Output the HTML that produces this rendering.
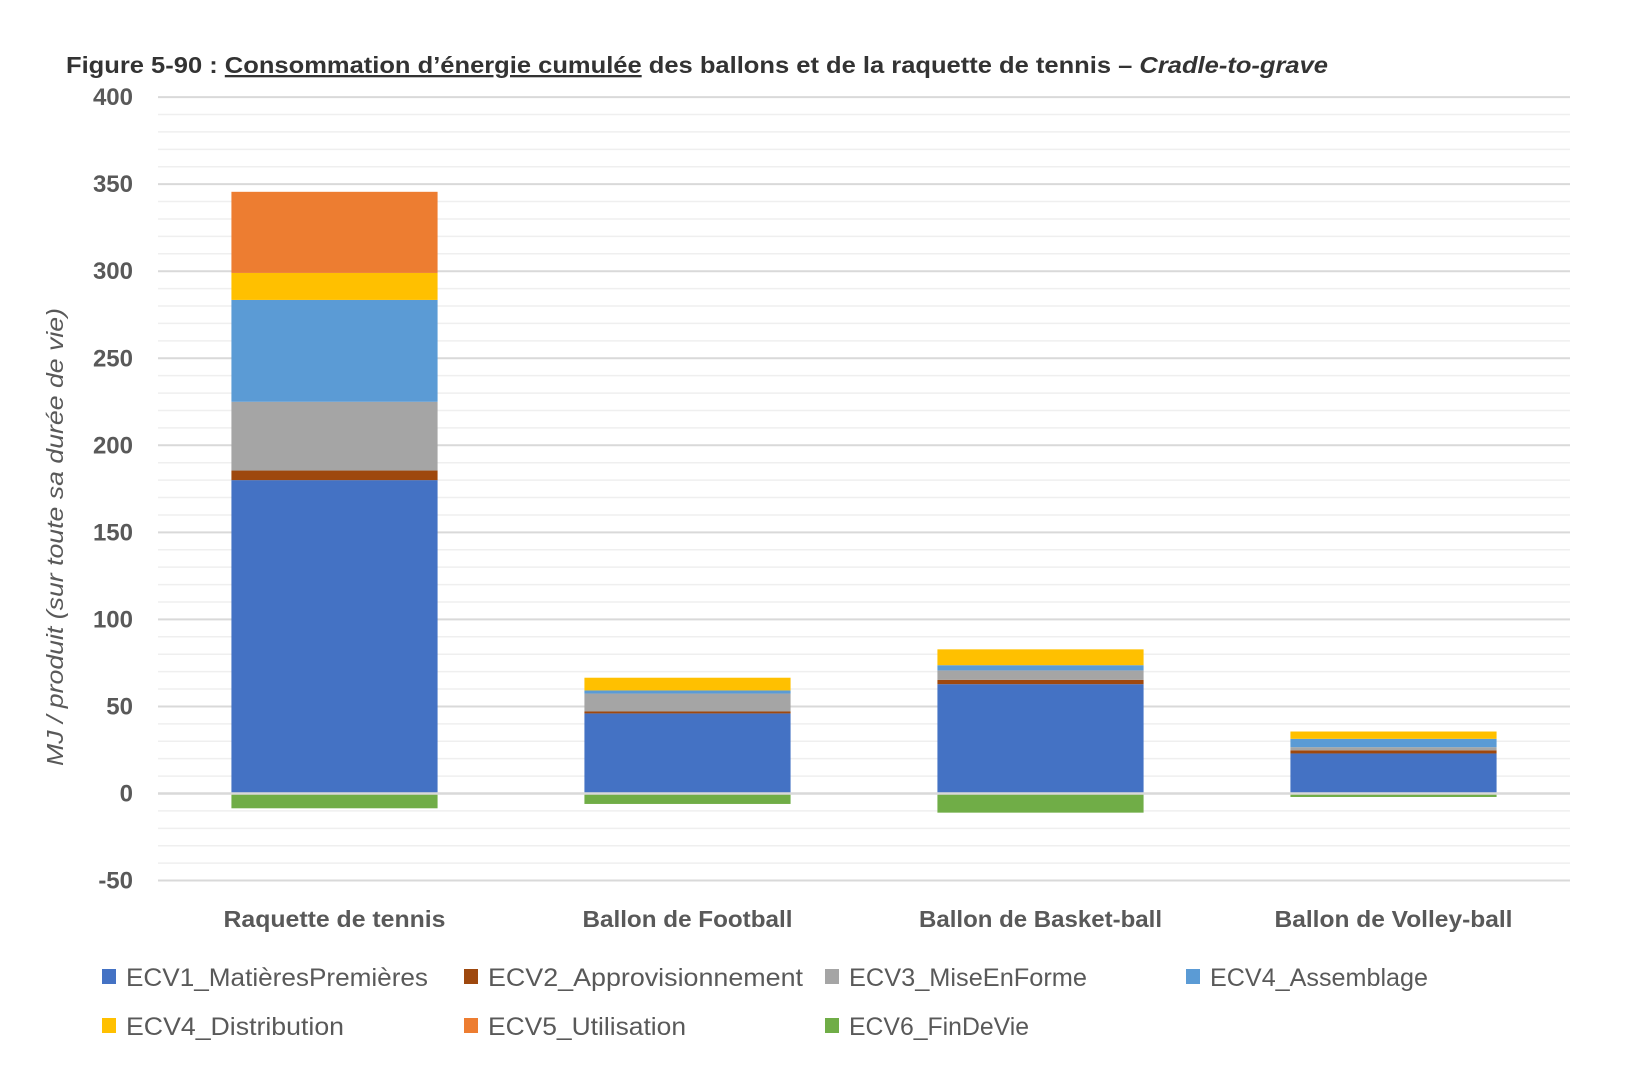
<!DOCTYPE html>
<html><head><meta charset="utf-8"><style>
html,body{margin:0;padding:0;background:#fff}
svg{display:block}
text{font-family:"Liberation Sans",sans-serif}
</style></head><body>
<svg id="chart" width="1651" height="1079" viewBox="0 0 1651 1079" xmlns="http://www.w3.org/2000/svg">
<text x="66" y="73" font-size="23" font-weight="bold" fill="#333" textLength="1262" lengthAdjust="spacingAndGlyphs">Figure 5-90 : <tspan text-decoration="underline">Consommation d’énergie cumulée</tspan> des ballons et de la raquette de tennis – <tspan font-style="italic">Cradle-to-grave</tspan></text>
<g id="grid"></g>
<g id="yticks"></g>
<g id="bars"></g>
<g id="zero"></g>
<g id="xlabels"></g>
<text transform="translate(63,537) rotate(-90)" text-anchor="middle" font-size="23" font-style="italic" fill="#595959" textLength="458" lengthAdjust="spacingAndGlyphs">MJ / produit (sur toute sa durée de vie)</text>
<g id="legend"></g>
</svg>
<script>
const categories = ["Raquette de tennis","Ballon de Football","Ballon de Basket-ball","Ballon de Volley-ball"];
const seriesNames = ["ECV1_MatièresPremières","ECV2_Approvisionnement","ECV3_MiseEnForme","ECV4_Assemblage","ECV4_Distribution","ECV5_Utilisation","ECV6_FinDeVie"];
const ecv1 = [180, 46, 62.8, 23];
const ecv2 = [5.5, 1.1, 2.5, 1.8];
const ecv3 = [39.5, 10.3, 5.4, 1.8];
const ecv4a = [58.5, 1.8, 3, 4.8];
const ecv4d = [15.5, 7.3, 9.1, 4.2];
const ecv5 = [46.6, 0, 0, 0];
const ecv6 = [-8.5, -6, -11, -2];
const yTicks = [400,350,300,250,200,150,100,50,0,-50];
const colors = ["#4472C4","#9E480E","#A5A5A5","#5B9BD5","#FFC000","#ED7D31","#70AD47"];
const series = [ecv1,ecv2,ecv3,ecv4a,ecv4d,ecv5,ecv6];

const NS="http://www.w3.org/2000/svg";
const plotL=158, plotR=1570, y0=793.5, pxPer=1.741;
const yMin=-50, yMax=400;
function y(v){return y0 - v*pxPer;}
const band=(plotR-plotL)/categories.length;
function xc(i){return plotL + band*(i+0.5);}
const bw=band*0.584;
function mk(tag,attrs,parent){const e=document.createElementNS(NS,tag);for(const k in attrs)e.setAttribute(k,attrs[k]);parent.appendChild(e);return e;}

const grid=document.getElementById('grid');
for(let v=yMin; v<=yMax; v+=10){
  const major = v%50===0;
  const l=mk('line',{x1:plotL,x2:plotR,y1:y(v),y2:y(v),stroke:major?'#d9d9d9':'#efefef','stroke-width':major?2:1.5},grid);
  
  
}
const yt=document.getElementById('yticks');
yTicks.forEach(v=>{
  const t=mk('text',{x:133,y:y(v)+8,'text-anchor':'end','font-size':24,'font-weight':'bold',fill:'#595959'},yt);
  t.textContent=v;
  
  
});
const bars=document.getElementById('bars');
categories.forEach((c,i)=>{
  let pos=0, neg=0;
  series.forEach((s,k)=>{
    const v=s[i]; if(v===0) return;
    let top,bot;
    if(v>0){bot=pos; pos+=v; top=pos;} else {top=neg; neg+=v; bot=neg;}
    const r=mk('rect',{x:xc(i)-bw/2,y:y(top),width:bw,height:y(bot)-y(top),fill:colors[k]},bars);
    
    
  });
});
const zl=mk('line',{x1:plotL,x2:plotR,y1:y(0),y2:y(0),stroke:'#d9d9d9','stroke-width':2.5},document.getElementById('zero'));
const xl=document.getElementById('xlabels');
const xw=[222,210,243,238];
categories.forEach((c,i)=>{
  const t=mk('text',{x:xc(i),y:927,'text-anchor':'middle','font-size':23,'font-weight':'bold',fill:'#595959',textLength:xw[i],lengthAdjust:'spacingAndGlyphs'},xl);
  t.textContent=c;
  
  
});
const lg=document.getElementById('legend');
const lx=[102,464,825,1186], ly=[986,1035];
const tw=[302,315,238,218,218,198,180];
seriesNames.forEach((n,k)=>{
  const col=k%4, row=Math.floor(k/4);
  const g=mk('g',{},lg);
  
  
  mk('rect',{x:lx[col],y:ly[row]-17,width:14,height:15,fill:colors[k]},g);
  const t=mk('text',{x:lx[col]+24,y:ly[row],'font-size':25,fill:'#595959',textLength:tw[k],lengthAdjust:'spacingAndGlyphs'},g);
  t.textContent=n;
});
</script>
</body></html>
